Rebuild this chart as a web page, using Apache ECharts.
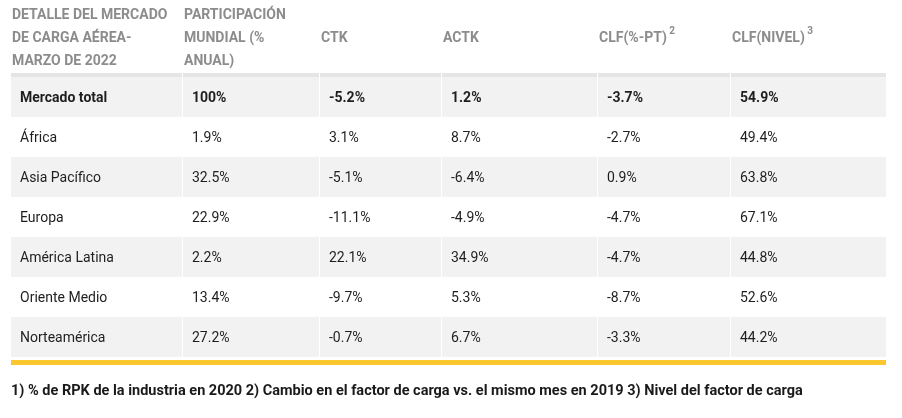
<!DOCTYPE html>
<html>
<head>
<meta charset="utf-8">
<script src="https://cdn.jsdelivr.net/npm/echarts@6/dist/echarts.min.js"></script>
<style>
  html, body { margin: 0; padding: 0; background: #fff; }
  #tabla { width: 902px; height: 418px; }
</style>
</head>
<body>
<div id="tabla"></div>
<script>
// datos de la tabla
const encabezados = [
  "DETALLE DEL MERCADO\nDE CARGA AÉREA-\nMARZO DE 2022",
  "PARTICIPACIÓN\nMUNDIAL (%\nANUAL)",
  "CTK",
  "ACTK",
  "CLF(%-PT)",
  "CLF(NIVEL)"
];
const notas = ["", "", "", "", "2", "3"];
const regiones = ["Mercado total", "África", "Asia Pacífico", "Europa", "América Latina", "Oriente Medio", "Norteamérica"];
const participacion = [100, 1.9, 32.5, 22.9, 2.2, 13.4, 27.2];
const ctk = [-5.2, 3.1, -5.1, -11.1, 22.1, -9.7, -0.7];
const actk = [1.2, 8.7, -6.4, -4.9, 34.9, 5.3, 6.7];
const clfPt = [-3.7, -2.7, 0.9, -4.7, -4.7, -8.7, -3.3];
const clfNivel = [54.9, 49.4, 63.8, 67.1, 44.8, 52.6, 44.2];
const pie = "1) % de RPK de la industria en 2020 2) Cambio en el factor de carga vs. el mismo mes en 2019 3) Nivel del factor de carga";

// ancho de cada columna (layout)
const anchos = [172, 137, 122, 156, 133, 155];
const bordes = [0];
anchos.forEach(a => bordes.push(bordes[bordes.length - 1] + a));

const columnas = [participacion, ctk, actk, clfPt, clfNivel];

function textoCelda(c, r) {
  if (c === 0) return regiones[r];
  return columnas[c - 1][r] + "%";
}

const celdas = [];
for (let r = 0; r < regiones.length; r++) {
  for (let c = 0; c < anchos.length; c++) {
    celdas.push([c, r]);
  }
}

const fuente = "Roboto, 'Liberation Sans', sans-serif";

function dibujarCelda(params, api) {
  const c = api.value(0);
  const r = api.value(1);
  const p0 = api.coord([bordes[c], r]);
  const p1 = api.coord([bordes[c + 1], r]);
  const h = api.size([0, 1])[1];
  const x0 = p0[0];
  const w = p1[0] - p0[0] - (c < anchos.length - 1 ? 1 : 0);
  const yc = p0[1];
  const hijos = [
    {
      type: "rect",
      shape: { x: x0, y: yc - h / 2, width: w, height: h },
      style: { fill: r % 2 === 0 ? "#f2f2f2" : "#ffffff" }
    },
    {
      type: "text",
      style: {
        x: x0 + 9,
        y: yc + 1,
        text: textoCelda(c, r),
        fill: "#1e1e1e",
        font: (r === 0 ? "bold " : "") + "14px " + fuente,
        verticalAlign: "middle",
        align: "left"
      }
    }
  ];
  if (r === 0) {
    const top = yc - h / 2;
    hijos.push({
      type: "rect",
      shape: { x: x0, y: top - 4, width: w, height: 4 },
      style: { fill: "#e5e5e5" }
    });
    hijos.push({
      type: "text",
      style: {
        x: x0 + 1,
        y: top - 39,
        text: notas[c] ? "{m|" + encabezados[c] + "}{s| " + notas[c] + "}" : "{m|" + encabezados[c].split("\n").join("}\n{m|") + "}",
        verticalAlign: "middle",
        align: "left",
        rich: {
          m: { font: "bold 14px " + fuente, fill: "#8c8c8c", lineHeight: 23 },
          s: { font: "bold 10px " + fuente, fill: "#8c8c8c", lineHeight: 23, verticalAlign: "top" }
        }
      }
    });
  }
  return { type: "group", children: hijos };
}

const grafico = echarts.init(document.getElementById("tabla"));

grafico.setOption({
  animation: false,
  grid: { left: 11, right: 16, top: 77, bottom: 61 },
  xAxis: {
    type: "value",
    min: 0,
    max: bordes[bordes.length - 1],
    show: false
  },
  yAxis: {
    type: "category",
    data: regiones,
    inverse: true,
    show: false
  },
  graphic: [
    {
      type: "rect",
      left: 11,
      top: 360,
      shape: { width: 875, height: 5 },
      style: { fill: "#fac72e" }
    },
    {
      type: "text",
      left: 11,
      top: 384,
      style: {
        text: pie,
        font: "bold 14.5px " + fuente,
        fill: "#1a1a1a"
      }
    }
  ],
  series: [
    {
      type: "custom",
      renderItem: dibujarCelda,
      data: celdas,
      silent: true
    }
  ]
});
</script>
</body>
</html>
